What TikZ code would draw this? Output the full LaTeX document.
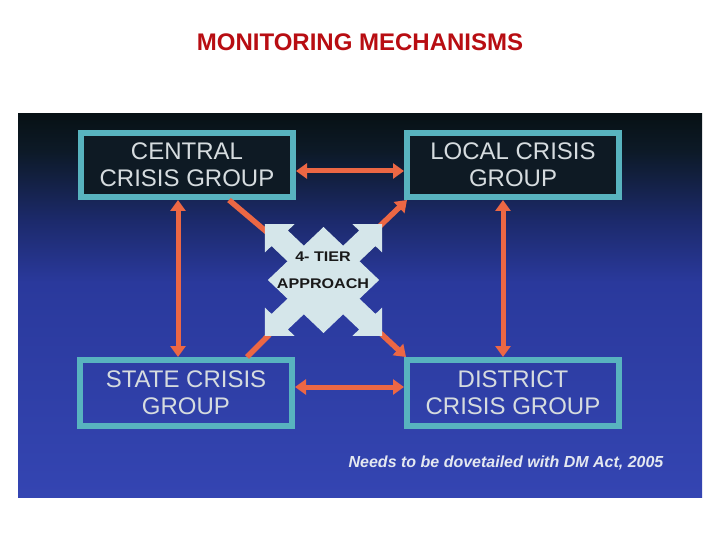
\documentclass[tikz,border=0pt]{standalone}
\usepackage{fontspec}
\setmainfont{Liberation Sans}
\usetikzlibrary{arrows.meta,calc}
\definecolor{titlered}{HTML}{B80D12}
\definecolor{bgtop}{HTML}{071115}
\definecolor{bgA}{HTML}{0D1A28}
\definecolor{bgB}{HTML}{1C2A6C}
\definecolor{bgC}{HTML}{2A399C}
\definecolor{bgbot}{HTML}{3445B2}
\definecolor{boxline}{HTML}{58B3BF}
\definecolor{boxtext}{HTML}{D6DCDF}
\definecolor{arrowc}{HTML}{EC6744}
\definecolor{xfill}{HTML}{D5E6EA}
\definecolor{topfill}{HTML}{0E1A24}
\definecolor{foottext}{HTML}{E4E8F0}
\pgfdeclareverticalshading{panelshade}{100bp}{color(0bp)=(bgbot); color(25bp)=(bgbot); color(53bp)=(bgC); color(61bp)=(bgB); color(70bp)=(bgA); color(75bp)=(bgtop); color(100bp)=(bgtop)}
\begin{document}
\begin{tikzpicture}[x=1pt,y=-1pt,
  titlestyle/.style={text=titlered,font=\fontsize{24}{28}\selectfont\bfseries,anchor=base,inner sep=0},
  grp/.style={draw=boxline,line width=6pt,minimum width=212pt,minimum height=64pt,inner sep=0,align=center,text=boxtext,font=\fontsize{24}{27}\selectfont},
  dbl/.style={draw=arrowc,line width=5pt,{Triangle[length=11pt,width=15pt]}-{Triangle[length=11pt,width=15pt]}},
  diag/.style={draw=arrowc,line width=5.5pt},
  diagarr/.style={diag,-{Triangle[length=11pt,width=15pt]}},
  tiertext/.style={align=center,inner sep=0,text=black!90,font=\fontsize{14}{27}\selectfont\bfseries,xscale=1.15},
  foot/.style={anchor=base,inner sep=0,text=foottext,font=\fontsize{16}{18}\selectfont\bfseries\itshape}]
\useasboundingbox[fill=white] (0,0) rectangle (720,540);
\node[titlestyle] (title) at (360,51) {MONITORING MECHANISMS};
\shade[shading=panelshade] (18,114) rectangle (702,497);
% groups
\node[grp,fill=topfill] (central) at (187,165) {CENTRAL\\CRISIS GROUP};
\node[grp,fill=topfill] (local) at (513,165) {LOCAL CRISIS\\GROUP};
\node[grp,minimum height=66pt] (state) at (186,393) {STATE CRISIS\\GROUP};
\node[grp,minimum height=66pt] (district) at (513,393) {DISTRICT\\CRISIS GROUP};
% straight connectors
\draw[dbl] ([yshift=-6pt]central.east) -- ([yshift=-6pt]local.west);
\draw[dbl] ([yshift=6pt]state.east) -- ([yshift=6pt]district.west);
\draw[dbl] ([xshift=-9pt]central.south) -- ([xshift=-8pt]state.north);
\draw[dbl] ([xshift=-10pt]local.south) -- ([xshift=-10pt]district.north);
% diagonal connectors from the 4-tier symbol
\coordinate (xc) at (323.5,280);
\draw[diag] (xc) -- ([xshift=42pt]central.south);
\draw[diagarr] (xc) -- ([xshift=3pt]local.south west);
\draw[diag] (xc) -- ([xshift=61pt]state.north);
\draw[diagarr] (xc) -- ([xshift=2pt]district.north west);
% 4-way arrow symbol
\begin{scope}[shift={(xc)},xscale=1.05]
  \fill[xfill] (0,-53) -- (53,0) -- (0,53) -- (-53,0) -- cycle;
  \foreach \a in {45,135,225,315}
    \fill[xfill,rotate=\a] (35,-11) -- (59,-11) -- (59,-20) -- (79,0) -- (59,20) -- (59,11) -- (35,11) -- cycle;
\end{scope}
\node[tiertext] (tier) at (323,270.5) {4- TIER\\APPROACH};
\node[foot] (note) at (506,467) {Needs to be dovetailed with DM Act, 2005};
\end{tikzpicture}
\end{document}
